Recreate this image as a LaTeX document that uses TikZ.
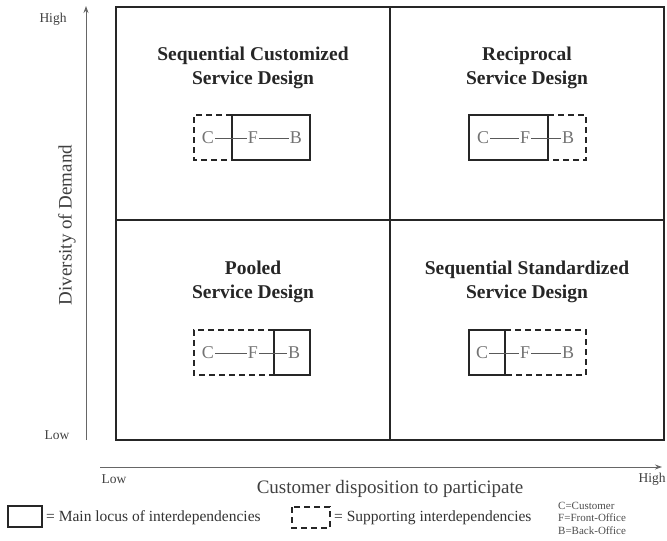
\documentclass[tikz,border=0pt]{standalone}
\usepackage{fontspec}
\setmainfont{Liberation Serif}
\usetikzlibrary{arrows.meta}
\begin{document}
\begin{tikzpicture}[x=1pt,y=-1pt,
  frame/.style={line width=1.6pt,draw=black!85},
  axis/.style={line width=0.9pt,draw=black!60,-{Stealth[length=7pt,width=5pt]}},
  title/.style={font=\fontsize{19.5}{23.5}\selectfont\bfseries,align=center,text=black!85},
  letter/.style={font=\fontsize{18}{18}\selectfont,text=black!55,inner sep=1.2pt},
  link/.style={line width=0.9pt,draw=black!65},
  mainbox/.style={line width=1.6pt,draw=black!85},
  supbox/.style={line width=1.6pt,draw=black!85,dash pattern=on 6pt off 4pt},
  ticklabel/.style={font=\fontsize{13.5}{13.5}\selectfont,text=black!75},
  axlabel/.style={font=\fontsize{19}{19}\selectfont,text=black!75},
  legend/.style={font=\fontsize{15.5}{15.5}\selectfont,text=black!80,anchor=west,inner sep=0pt},
  keytext/.style={font=\fontsize{11}{12.5}\selectfont,text=black!70,align=left,anchor=west,inner sep=0pt}]
\useasboundingbox (0,0) rectangle (667,541);

% axes
\coordinate (yb) at (86,440);
\coordinate (yt) at (86,6);
\coordinate (xl) at (100,467);
\coordinate (xr) at (662,467);
\draw[axis] (yb) -- (yt);
\draw[axis] (xl) -- (xr);
\node[ticklabel] (yhigh) at (53,19) {High};
\node[ticklabel] (ylow) at (57,435) {Low};
\node[ticklabel] (xlow) at (114,479) {Low};
\node[ticklabel] (xhigh) at (652,479) {High};
\node[axlabel,rotate=90] (ylab) at (67,225) {Diversity of Demand};
\node[axlabel] (xlab) at (390,489) {Customer disposition to participate};

% quadrant frame
\draw[frame] (116,7) rectangle (664,440);
\draw[frame] (390,7) -- (390,440);
\draw[frame] (116,220) -- (664,220);

% quadrant titles
\node[title] (t1) at (253,68) {Sequential Customized\\Service Design};
\node[title] (t2) at (527,68) {Reciprocal\\Service Design};
\node[title] (t3) at (253,282) {Pooled\\Service Design};
\node[title] (t4) at (527,282) {Sequential Standardized\\Service Design};

% top left: customer supporting, front and back office main
\draw[supbox] (232,115) -- (194,115) -- (194,160) -- (232,160);
\draw[mainbox] (232,115) rectangle (310,160);
\node[letter] (c1) at (208,138) {C};
\node[letter] (f1) at (253,138) {F};
\node[letter] (b1) at (296,138) {B};
\draw[link] (c1) -- (f1);
\draw[link] (f1) -- (b1);

% top right: customer and front office main, back office supporting
\draw[supbox] (548,115) -- (586,115) -- (586,160) -- (548,160);
\draw[mainbox] (469,115) rectangle (548,160);
\node[letter] (c2) at (483,138) {C};
\node[letter] (f2) at (525,138) {F};
\node[letter] (b2) at (568,138) {B};
\draw[link] (c2) -- (f2);
\draw[link] (f2) -- (b2);

% bottom left: back office main
\draw[supbox] (274,330) -- (194,330) -- (194,375) -- (274,375);
\draw[mainbox] (274,330) rectangle (310,375);
\node[letter] (c3) at (208,353) {C};
\node[letter] (f3) at (253,353) {F};
\node[letter] (b3) at (294,353) {B};
\draw[link] (c3) -- (f3);
\draw[link] (f3) -- (b3);

% bottom right: customer main
\draw[supbox] (505,330) -- (586,330) -- (586,375) -- (505,375);
\draw[mainbox] (469,330) rectangle (505,375);
\node[letter] (c4) at (482,353) {C};
\node[letter] (f4) at (525,353) {F};
\node[letter] (b4) at (568,353) {B};
\draw[link] (c4) -- (f4);
\draw[link] (f4) -- (b4);

% legend
\draw[mainbox,line width=2pt] (8,506) rectangle (42,527);
\node[legend] (l1) at (46,518) {= Main locus of interdependencies};
\draw[supbox] (292,507) rectangle (330,528);
\node[legend] (l2) at (334,518) {= Supporting interdependencies};
\node[keytext] (key) at (558,518) {C=Customer\\F=Front-Office\\B=Back-Office};
\end{tikzpicture}
\end{document}
